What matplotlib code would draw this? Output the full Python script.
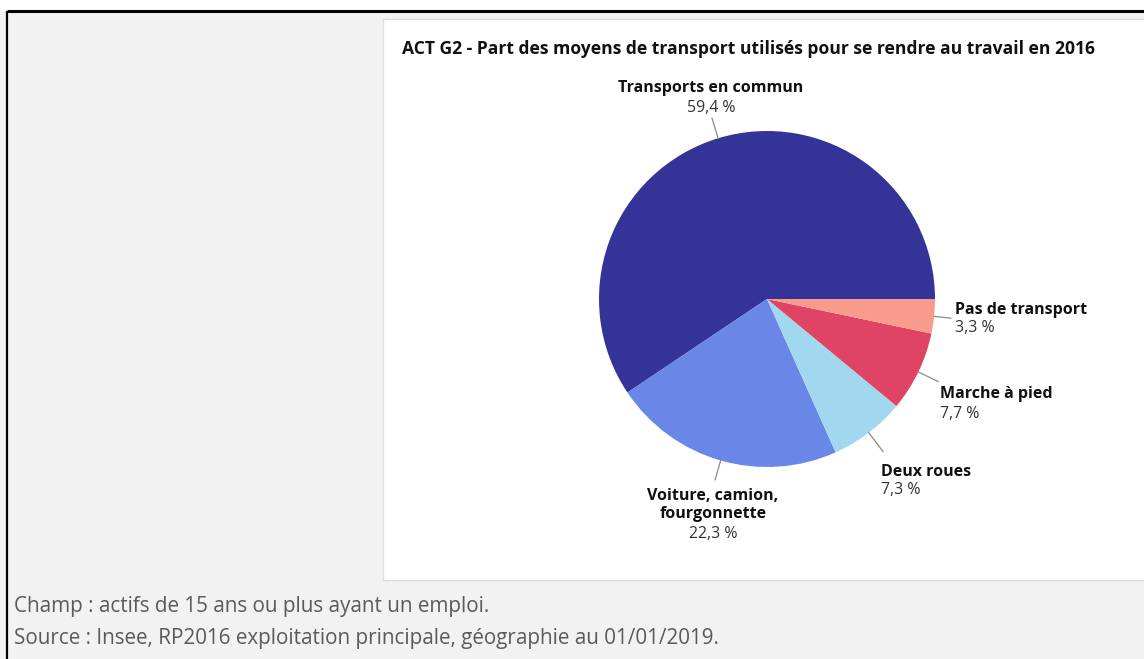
import matplotlib
matplotlib.use("Agg")
import matplotlib.pyplot as plt
from matplotlib.patches import Rectangle
import numpy as np

# ---- data ----
categories = ["Transports en commun", "Voiture, camion,\nfourgonnette", "Deux roues",
              "Marche à pied", "Pas de transport"]
values = [59.4, 22.3, 7.3, 7.7, 3.3]
colors = ["#343398", "#6987e6", "#a2d8ef", "#e04465", "#f89b8d"]
title = "ACT G2 - Part des moyens de transport utilisés pour se rendre au travail en 2016"
footer = ["Champ : actifs de 15 ans ou plus ayant un emploi.",
          "Source : Insee, RP2016 exploitation principale, géographie au 01/01/2019."]

W, H = 1144, 659
plt.rcParams['font.family'] = ['Open Sans', 'DejaVu Sans']
fig = plt.figure(figsize=(W / 100, H / 100), dpi=100)
fig.patch.set_facecolor("#f2f2f2")
ax = fig.add_axes([0, 0, 1, 1])
ax.set_xlim(0, W)
ax.set_ylim(0, H)
ax.set_aspect("equal")
ax.axis("off")

def Y(y):
    return H - y

# page background (above frame) and black frame
ax.add_patch(Rectangle((0, Y(11)), W, 11, facecolor="white", edgecolor="none", zorder=0))
ax.plot([7, W], [Y(11), Y(11)], color="black", lw=2.2, solid_capstyle="butt", zorder=1)
ax.plot([7, 7], [Y(11), 0], color="black", lw=1.6, solid_capstyle="butt", zorder=1)

# white chart panel
ax.add_patch(Rectangle((383, Y(580)), W - 383 + 5, 561, facecolor="white",
                       edgecolor="#dcdcdc", lw=1.0, zorder=1))

# title
ax.text(402, Y(49), title, fontsize=12.6, fontweight="bold", color="#111111",
        ha="left", va="center", zorder=3)

# pie
cx, cy, r = 767, Y(299), 168
wedges, _ = ax.pie(values, colors=colors, startangle=0, counterclock=True,
                   center=(cx, cy), radius=r, frame=True,
                   wedgeprops=dict(linewidth=0, zorder=2))
ax.set_xlim(0, W)
ax.set_ylim(0, H)
ax.axis("off")

# label placement (pixel positions of text blocks)
label_pos = [
    (711, 88.5, "center", 1.125),
    (713, 495.5, "center", 1.12),
    (881, 471.5, "left", 1.14),
    (940, 394.5, "left", 1.13),
    (955, 309.5, "left", 1.10),
]
for w, cat, v, (lx, ly, ha, rf) in zip(wedges, categories, values, label_pos):
    mid = np.deg2rad((w.theta1 + w.theta2) / 2)
    x0, y0 = cx + r * np.cos(mid), cy + r * np.sin(mid)
    x1, y1 = cx + rf * r * np.cos(mid), cy + rf * r * np.sin(mid)
    ax.plot([x0, x1], [y0, y1], color="#8a8a8a", lw=0.9, zorder=3)
    lines = cat.split("\n")
    yy = ly
    for ln in lines:
        ax.text(lx, Y(yy), ln, fontsize=11.5, fontweight="bold", color="#111111",
                ha=ha, va="center", zorder=3)
        yy += 19
    pct = f"{v:.1f}".replace(".", ",") + " %"
    ax.text(lx, Y(yy), pct, fontsize=11.4, color="#333333", ha=ha, va="center", zorder=3)

# footer
ax.text(14, Y(606.5), footer[0], fontsize=14.9, color="#5a5a5a", ha="left", va="center")
ax.text(14, Y(638.5), footer[1], fontsize=14.9, color="#5a5a5a", ha="left", va="center")

fig.savefig("out.png", dpi=100, facecolor=fig.get_facecolor())
